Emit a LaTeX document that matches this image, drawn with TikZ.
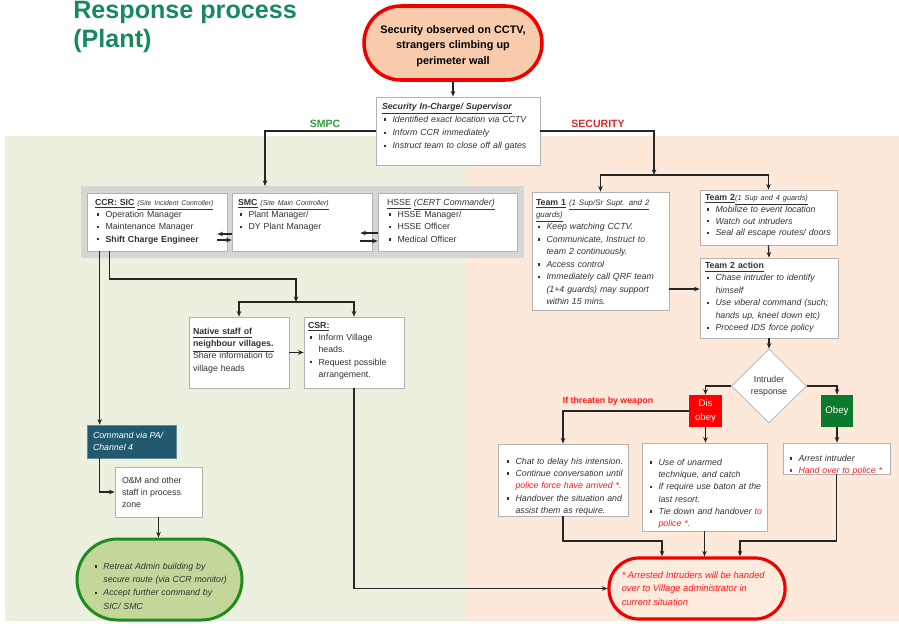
\documentclass[tikz,border=0pt]{standalone}
\usepackage{fontspec}
\setmainfont{Liberation Sans}
\usetikzlibrary{arrows.meta,shapes.geometric,positioning,fit,calc,shadows}

\definecolor{bggreen}{HTML}{EBF1DE}
\definecolor{bgsalmon}{HTML}{FDE9D9}
\definecolor{titlegreen}{HTML}{178A5C}
\definecolor{startfill}{HTML}{F8CBAD}
\definecolor{termred}{HTML}{F00000}
\definecolor{panelgray}{HTML}{D6D6D6}
\definecolor{cmdblue}{HTML}{215A6E}
\definecolor{disred}{HTML}{FF0000}
\definecolor{obeygreen}{HTML}{0B7A2A}
\definecolor{retreatfill}{HTML}{C4D79B}
\definecolor{retreatline}{HTML}{1E8C1E}
\definecolor{finalfill}{HTML}{FDEBDD}
\definecolor{smpcgreen}{HTML}{2E9E3E}
\definecolor{secred}{HTML}{E02828}
\definecolor{txtred}{HTML}{FF1A1A}

\setlength\parindent{0pt}
\newlength\bi \setlength\bi{6pt}
% bullet item, hanging indent
\newcommand\itm[2][black!80]{\par\noindent\hangindent=\bi\hangafter=1%
  \makebox[\bi][l]{\hspace{1pt}\textcolor{#1}{\rule[0.9pt]{1.5pt}{1.5pt}}}#2\par}
\newcommand\hd[1]{\underline{\textbf{#1}}}
\newcommand\sm[2][4.5]{{\fontsize{#1}{7}\selectfont\itshape #2}}
\newcommand\rd[1]{\textcolor{txtred}{#1}}

\begin{document}
\begin{tikzpicture}[x=0.02cm,y=-0.02cm,
  box/.style={draw=black!30,fill=white,inner sep=0pt,
    drop shadow={shadow xshift=0.8pt,shadow yshift=-0.8pt,opacity=0.3,fill=black}},
  txt/.style={anchor=north west,inner sep=0pt,align=left,text=black!80,
    font=\fontsize{5}{7}\selectfont},
  itxt/.style={txt,font=\fontsize{5}{7}\selectfont\itshape},
  term/.style={line width=2pt,inner sep=0pt},
  arr/.style={draw=black!85,line width=0.7pt,-{Stealth[length=3.2pt,width=2.6pt]}},
  ln/.style={draw=black!85,line width=0.7pt}]
\useasboundingbox (0,0) rectangle (899,629);

% background areas
\fill[bggreen] (5,136) rectangle (465,621);
\fill[bgsalmon] (465,136) rectangle (899,621);

\node[anchor=north west,inner sep=0pt,align=left,text=titlegreen,
  font=\fontsize{14.3}{16.5}\selectfont\bfseries] (title) at (73,1)
  {Response process\\(Plant)};

% start
\node[term,draw=termred,fill=startfill,rounded corners=21pt,fit={(364,6) (542,80)}] (start) {};
\node[inner sep=0pt,align=center,font=\fontsize{6.2}{9}\selectfont\bfseries] (start-t)
  at ($(start.center)+(0,3)$) {Security observed on CCTV,\\strangers climbing up\\perimeter wall};

\node[box,fit={(376,97) (540,165)}] (sec) {};
\node[itxt,text width=3.2cm,font=\fontsize{5}{7.5}\selectfont\itshape] (sec-t)
  at ($(sec.north west)+(6,6)$)
  {\hd{Security In-Charge/ Supervisor}\itm{Identified exact location via CCTV}%
   \itm{Inform CCR immediately}\itm{Instruct team to close off all gates}};

\node[font=\fontsize{6}{7}\selectfont\bfseries,text=smpcgreen] (smpc-l) at (325,124) {SMPC};
\node[font=\fontsize{6}{7}\selectfont\bfseries,text=secred] (sec-l) at (598,124) {SECURITY};

% SMPC side
\node[fill=panelgray,inner sep=0pt,fit={(81,186) (524,258)}] (panel) {};
\node[box,fit={(87,193) (227,251)}] (ccr) {};
\node[box,fit={(232,193) (372,251)}] (smc) {};
\node[box,fit={(378,193) (517,251)}] (hsse) {};
\node[txt,text width=2.7cm] (ccr-t) at ($(ccr.north west)+(8,6)$)
  {\hd{CCR: SIC} \underline{\sm[3.9]{(Site Incident Controller)}}\itm{Operation Manager}%
   \itm{Maintenance Manager}\itm{\textbf{Shift Charge Engineer}}};
\node[txt,text width=2.7cm] (smc-t) at ($(smc.north west)+(6,6)$)
  {\hd{SMC} \underline{\sm[4]{(Site Main Controller)}}\itm{Plant Manager/}\itm{DY Plant Manager}};
\node[txt,text width=2.7cm] (hsse-t) at ($(hsse.north west)+(9,6)$)
  {\underline{HSSE} \underline{\textit{(CERT Commander)}}\itm{HSSE Manager/}\itm{HSSE Officer}%
   \itm{Medical Officer}};

\node[box,fit={(189,317) (289,388)}] (native) {};
\node[txt,text width=2cm] (native-t) at ($(native.north west)+(4,11)$)
  {\hd{Native staff of}\\\hd{neighbour villages.}\\Share information to\\village heads};
\node[box,fit={(304,317) (404,388)}] (csr) {};
\node[txt,text width=2cm] (csr-t) at ($(csr.north west)+(4,5)$)
  {\hd{CSR:}\itm{Inform Village\newline heads.}\itm{Request possible\newline arrangement.}};

\node[fill=cmdblue,draw=cmdblue!70!white,inner sep=0pt,fit={(87,425) (176,458)}] (cmd) {};
\node[itxt,text=white] (cmd-t) at ($(cmd.north west)+(6,7)$) {Command via PA/\\Channel 4};
\node[box,fit={(115,467) (202,517)}] (om) {};
\node[txt] (om-t) at ($(om.north west)+(7,10)$) {O\&M and other\\staff in process\\zone};
\node[term,line width=1.7pt,draw=retreatline,fill=retreatfill,rounded corners=23pt,
  fit={(77,539) (242,620)}] (retreat) {};
\node[itxt,text width=3cm,font=\fontsize{5}{7.6}\selectfont\itshape] (retreat-t)
  at ($(retreat.north west)+(17,18)$)
  {\itm{Retreat Admin building by\newline secure route (via CCR monitor)}%
   \itm{Accept further command by\newline SIC/ SMC}};

% SECURITY side
\node[box,fit={(532,192) (669,310)}] (team1) {};
\node[itxt,text width=2.7cm,font=\fontsize{5}{7.1}\selectfont\itshape] (team1-t)
  at ($(team1.north west)+(4,7)$)
  {\underline{\textbf{\upshape Team 1}} \underline{\sm{(1 Sup/Sr Supt. and 2}}\\\underline{\sm{guards)}}%
   \itm{Keep watching CCTV.}\itm{Communicate, Instruct to\newline team 2 continuously.}%
   \itm{Access control}\itm{Immediately call QRF team\newline (1+4 guards) may support\newline within 15 mins.}};
\node[box,fit={(700,190) (837,245)}] (team2) {};
\node[itxt,text width=2.7cm,font=\fontsize{5}{6.8}\selectfont\itshape] (team2-t)
  at ($(team2.north west)+(5,4)$)
  {\underline{\textbf{\upshape Team 2}}\underline{\sm[4.2]{(1 Sup and 4 guards)}}%
   \itm{Mobilize to event location}\itm{Watch out intruders}\itm{Seal all escape routes/ doors}};
\node[box,fit={(700,258) (838,338)}] (t2act) {};
\node[itxt,text width=2.7cm,font=\fontsize{5}{7.1}\selectfont\itshape] (t2act-t)
  at ($(t2act.north west)+(5,4)$)
  {\underline{\textbf{\upshape Team 2 action}}\itm{Chase intruder to identify\newline himself}%
   \itm{Use viberal command (such;\newline hands up, kneel down etc)}\itm{Proceed IDS force policy}};

\node[diamond,draw=black!30,fill=white,minimum width=1.5cm,minimum height=1.48cm,inner sep=0pt,
  align=center,text=black!80,font=\fontsize{5}{7}\selectfont] (dia) at (769,386) {Intruder\\response};
\node[fill=disred,minimum width=0.66cm,minimum height=0.64cm,inner sep=0pt,align=center,
  text=white,font=\fontsize{5.5}{7.5}\selectfont] (dis) at (705.5,411) {Dis\\obey};
\node[fill=obeygreen,minimum width=0.64cm,minimum height=0.64cm,inner sep=0pt,
  text=white,font=\fontsize{5.5}{7.5}\selectfont] (obey) at (837,411) {Obey};
\node[font=\fontsize{5}{6}\selectfont\bfseries,text=txtred] (weapon) at (608,401) {If threaten by weapon};

\node[box,fit={(498,444) (628,516)}] (boxa) {};
\node[itxt,text width=2.6cm] (boxa-t) at ($(boxa.north west)+(7,8)$)
  {\itm{Chat to delay his intension.}\itm{Continue conversation until\newline\rd{police force have arrived *.}}%
   \itm{Handover the situation and\newline assist them as require.}};
\node[box,fit={(642,443) (767,531)}] (boxb) {};
\node[itxt,text width=2.5cm] (boxb-t) at ($(boxb.north west)+(6,10)$)
  {\itm{Use of unarmed\newline technique, and catch}\itm{If require use baton at the\newline last resort.}%
   \itm{Tie down and handover \rd{to}\newline\rd{police *.}}};
\node[box,fit={(783,443) (890,474)}] (boxc) {};
\node[itxt,text width=2.2cm] (boxc-t) at ($(boxc.north west)+(5,6)$)
  {\itm{Arrest intruder}\itm[txtred]{\rd{Hand over to police *}}};

\node[term,line width=1.8pt,draw=termred,fill=finalfill,rounded corners=17pt,
  fit={(609,558) (785,619)}] (final) {};
\node[itxt,text=txtred,font=\fontsize{5.3}{7.6}\selectfont\itshape] (final-t)
  at ($(final.north west)+(14,15)$)
  {* Arrested Intruders will be handed\\over to Village administrator in\\current situation};

% connectors
\coordinate (smpc) at (265,186);
\coordinate (secbar) at (654,175);
\coordinate (vil) at (296,302);
\coordinate (ja) at (662,541);
\coordinate (jc) at (740,541);
\draw[arr] (start.south) -- (start.south |- sec.north);
\draw[arr] (sec.west) -| (smpc);
\draw[arr] (sec.east) -| (secbar);
\draw[arr] (secbar) -| (team1);
\draw[arr] (secbar) -| (team2);

\draw[arr] ($(smc.west)+(0,12)$) -- ($(ccr.east)+(-10,12)$);
\draw[arr] ($(ccr.east)+(-10,18)$) -- ($(smc.west)+(0,18)$);
\draw[arr] ($(hsse.west)+(0,11)$) -- ($(smc.east)+(-12,11)$);
\draw[arr] ($(smc.east)+(-12,19)$) -- ($(hsse.west)+(0,19)$);

\draw[arr] ($(ccr.south west)+(13,0)$) -- ($(cmd.north west)+(13,0)$);
\draw[arr] ($(ccr.south west)+(23,0)$) |- (296,279) -- (vil);
\draw[arr] (vil) -| (native);
\draw[arr] (vil) -| (csr);
\draw[arr] (native.east) -- (csr.west);
\draw[arr] (csr.south) |- (final.west);
\draw[arr] ($(cmd.south west)+(13,0)$) |- (om.west);
\draw[arr] (om.south) -- (om.south |- retreat.north);

\draw[arr] (team2.south) -- (t2act.north);
\draw[arr] ($(team1.east)+(0,38)$) -- ($(t2act.west)+(0,-9)$);
\draw[arr] (t2act.south) -- (dia.north);
\draw[arr] (dia.west) -| (dis);
\draw[arr] (dia.east) -| (obey);
\draw[arr] (dis.west) -| (boxa);
\draw[arr] (dis.south) -- (dis.south |- boxb.north);
\draw[arr] (obey.south) -- (obey.south |- boxc.north);
\draw[arr] (boxa.south) |- (ja) -- (ja |- final.north);
\draw[arr] (boxb.south) -- (boxb.south |- final.north);
\draw[arr] (boxc.south) |- (jc) -- (jc |- final.north);
\end{tikzpicture}
\end{document}
